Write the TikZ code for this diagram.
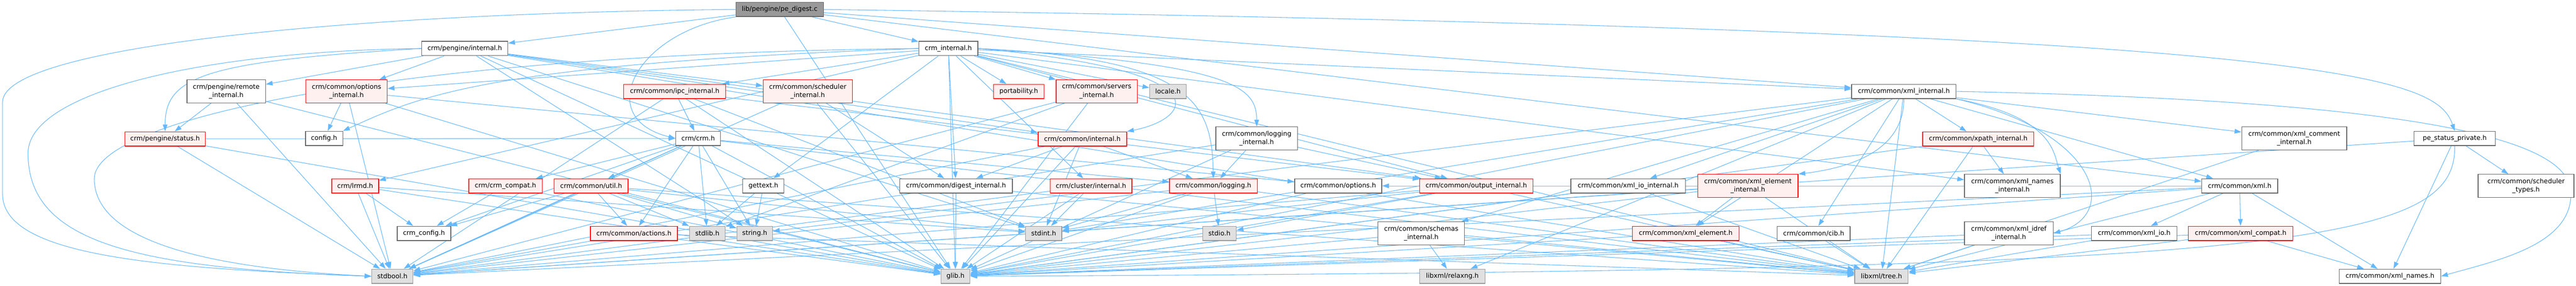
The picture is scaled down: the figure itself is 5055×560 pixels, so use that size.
\documentclass[tikz,border=0pt]{standalone}
\usepackage{fontspec}
\setmainfont{DejaVu Sans}
\usetikzlibrary{arrows.meta}
\definecolor{edgec}{HTML}{63B8FF}
\definecolor{redfill}{HTML}{FFF0F0}
\definecolor{grayfill}{HTML}{E0E0E0}
\definecolor{grayline}{HTML}{999999}
\definecolor{darkline}{HTML}{666666}
\definecolor{rootfill}{HTML}{999999}
\pgfdeclarelayer{back}\pgfdeclarelayer{edges}\pgfsetlayers{back,edges,main}
\begin{document}
\begin{tikzpicture}[x=0.75pt,y=-0.75pt,
 nd/.style={rectangle, inner sep=0pt, line width=1pt, align=center, font=\fontsize{9.6pt}{12.6pt}\selectfont, minimum height=21pt, text=black},
 dbl/.style={minimum height=33.75pt},
 W/.style={minimum width=#1*0.75pt},
 wb/.style={nd, draw=darkline, fill=white},
 rb/.style={nd, draw=red, fill=redfill},
 gb/.style={nd, draw=grayline, fill=grayfill},
 rootb/.style={nd, draw=darkline, fill=rootfill},
 edge/.style={draw=edgec, line width=0.8pt, -{Triangle[length=10pt,width=6.8pt]}},
]
\begin{pgfonlayer}{back}
\fill[white] (0,0) rectangle (5055,560);
\end{pgfonlayer}
\useasboundingbox (0,0) rectangle (5055,560);

% row 0-1
\node[rootb,W=172] (pe) at (1530,18.5) {lib/pengine/pe\_digest.c};
\node[wb,W=169] (pint) at (912,95) {crm/pengine/internal.h};
\node[wb,W=116] (ci) at (1861,95) {crm\_internal.h};
% row 2
\node[wb,W=154,dbl] (remi) at (444,179) {crm/pengine/remote\\\_internal.h};
\node[rb,W=160,dbl] (opti) at (680,179) {crm/common/options\\\_internal.h};
\node[rb,W=200] (ipci) at (1324,179) {crm/common/ipc\_internal.h};
\node[rb,W=175,dbl] (schedi) at (1585,179) {crm/common/scheduler\\\_internal.h};
\node[rb,W=99] (port) at (1999,179) {portability.h};
\node[rb,W=159,dbl] (servi) at (2152,179) {crm/common/servers\\\_internal.h};
\node[gb,W=72] (locale) at (2292,179) {locale.h};
\node[wb,W=205] (xmli) at (3736,179) {crm/common/xml\_internal.h};
% row 3
\node[rb,W=158] (status) at (324,272) {crm/pengine/status.h};
\node[wb,W=73] (config) at (636,271) {config.h};
\node[wb,W=88] (crm) at (1370,271) {crm/crm.h};
\node[rb,W=174] (cint) at (2124,272) {crm/common/internal.h};
\node[wb,W=160,dbl] (logi) at (2466,271) {crm/common/logging\\\_internal.h};
\node[rb,W=218] (xpathi) at (3882,272) {crm/common/xpath\_internal.h};
\node[wb,W=206,dbl] (xcommi) at (4502,271) {crm/common/xml\_comment\\\_internal.h};
\node[wb,W=160] (pesp) at (4817,271) {pe\_status\_private.h};
% row 4
\node[rb,W=92] (lrmd) at (697,364) {crm/lrmd.h};
\node[rb,W=144] (compat) at (992,364) {crm/crm\_compat.h};
\node[rb,W=145] (util) at (1160,364) {crm/common/util.h};
\node[wb,W=81] (gettext) at (1498,364) {gettext.h};
\node[wb,W=221] (digi) at (1876,364) {crm/common/digest\_internal.h};
\node[rb,W=160] (clui) at (2141,364) {crm/cluster/internal.h};
\node[rb,W=172] (logging) at (2381,364) {crm/common/logging.h};
\node[wb,W=171] (options) at (2626,364) {crm/common/options.h};
\node[rb,W=222] (outi) at (2897,364) {crm/common/output\_internal.h};
\node[wb,W=225] (xioi) at (3195,364) {crm/common/xml\_io\_internal.h};
\node[rb,W=197,dbl] (xeli) at (3430,364) {crm/common/xml\_element\\\_internal.h};
\node[wb,W=188,dbl] (xnamesi) at (3949,364) {crm/common/xml\_names\\\_internal.h};
\node[wb,W=149] (xmlh) at (4395,364) {crm/common/xml.h};
\node[wb,W=188,dbl] (schedt) at (4957,364) {crm/common/scheduler\\\_types.h};
% row 5
\node[wb,W=105] (crmconf) at (832,457) {crm\_config.h};
\node[rb,W=171] (actions) at (1244,457) {crm/common/actions.h};
\node[gb,W=70] (stdlib) at (1388,457) {stdlib.h};
\node[gb,W=70] (string) at (1481,457) {string.h};
\node[gb,W=71] (stdint) at (2048,457) {stdint.h};
\node[gb,W=66] (stdio) at (2393,457) {stdio.h};
\node[wb,W=170,dbl] (schemi) at (2789,457) {crm/common/schemas\\\_internal.h};
\node[rb,W=209] (xel) at (3308,457) {crm/common/xml\_element.h};
\node[wb,W=143] (cib) at (3559,457) {crm/common/cib.h};
\node[wb,W=174,dbl] (xidref) at (3942,457) {crm/common/xml\_idref\\\_internal.h};
\node[wb,W=168] (xio) at (4188,457) {crm/common/xml\_io.h};
\node[rb,W=205] (xcompat) at (4397,457) {crm/common/xml\_compat.h};
% row 6
\node[gb,W=81] (stdbool) at (770,541) {stdbool.h};
\node[gb,W=57] (glib) at (1875,541) {glib.h};
\node[gb,W=128] (relaxng) at (2850,541) {libxml/relaxng.h};
\node[gb,W=105] (tree) at (3692,541) {libxml/tree.h};
\node[wb,W=199] (xnames) at (4690,541) {crm/common/xml\_names.h};

\begin{pgfonlayer}{edges}
\foreach \a/\b in {
 pe/pint, pe/ci, pe/xmli, pe/xmlh, pe/glib,
 pint/remi, pint/opti, pint/schedi, pint/cint, pint/outi, pint/stdint, pint/string, pint/glib, pint/tree,
 remi/status, remi/glib, remi/stdbool,
 status/crm, status/glib, status/stdbool,
 opti/config, opti/glib, opti/stdbool, opti/options,
 ci/port, ci/servi, ci/locale, ci/ipci, ci/opti, ci/lrmd, ci/digi, ci/clui, ci/gettext, ci/xmli, ci/xnamesi, ci/outi, ci/glib, ci/tree,
 ipci/crm, ipci/stdint, ipci/glib, ipci/stdbool, ipci/outi,
 schedi/digi, schedi/glib, schedi/stdbool,
 servi/stdlib, servi/glib, servi/stdbool,
 crm/compat, crm/crmconf, crm/util, crm/actions, crm/stdlib, crm/string, crm/stdbool, crm/glib, crm/tree, crm/logging,
 compat/crmconf, compat/glib,
 lrmd/crmconf, lrmd/stdbool, lrmd/glib, lrmd/stdint,
 util/crmconf, util/actions, util/stdlib, util/string, util/stdbool, util/glib, util/tree, util/stdint,
 actions/glib, actions/stdbool, actions/tree,
 gettext/stdlib, gettext/string,
 digi/glib, digi/tree,
 clui/stdint, clui/glib, clui/stdbool,
 cint/digi, cint/logging, cint/glib, cint/stdbool, cint/stdint,
 logi/logging, logi/glib, logi/stdbool, logi/outi,
 logging/stdio, logging/glib, logging/stdbool, logging/stdint, logging/tree,
 options/glib,
 outi/glib, outi/stdbool, outi/stdio, outi/stdint, outi/tree,
 xmli/xpathi, xmli/xcommi, xmli/xioi, xmli/xmlh, xmli/cib, xmli/xel, xmli/schemi, xmli/relaxng, xmli/glib, xmli/stdint, xmli/string, xmli/tree,
 xioi/glib, xioi/tree,
 xeli/xel, xeli/tree, xeli/glib, xeli/stdbool,
 xel/tree, xel/glib,
 schemi/relaxng, schemi/glib, schemi/tree,
 cib/tree,
 xpathi/xnamesi, xpathi/glib, xpathi/tree,
 xidref/glib, xidref/tree,
 xio/glib, xio/tree,
 xmlh/xio, xmlh/xcompat, xmlh/xnames, xmlh/glib, xmlh/stdbool, xmlh/tree, xmlh/options,
 xcompat/xnames, xcompat/glib, xcompat/tree,
 xcommi/tree,
 pesp/schedt, pesp/xnames, pesp/stdbool}
 \draw[edge] (\a) -- (\b);
% curved routes
\draw[edge] (pe.west) .. controls (700,25) and (5,90) .. (5,200) -- (5,380) .. controls (5,500) and (300,525) .. (stdbool.west);
\draw[edge] (pint.west) .. controls (400,100) and (55,180) .. (55,300) .. controls (55,470) and (250,525) .. (stdbool.west);
\draw[edge] (ci.west) .. controls (800,105) and (185,230) .. (185,350) .. controls (185,470) and (400,525) .. (stdbool.west);
\draw[edge] (pint.west) .. controls (400,120) and (324,150) .. (status.north);
\draw[edge] (pe.south west) .. controls (1250,60) and (1160,230) .. (crm.west);
\draw[edge] (pe.east) .. controls (4600,60) and (4780,150) .. (pesp.north);
\draw[edge] (xmli.east) .. controls (4900,200) and (5045,300) .. (5045,380) .. controls (5045,480) and (4900,510) .. (xnames.east);
\draw[edge] (pesp.south) .. controls (4820,480) and (4500,530) .. (glib.east);
\draw[edge] (ci.west) .. controls (950,125) and (820,190) .. (config.north east);
\draw[edge] (ci.east) .. controls (2340,115) and (2378,200) .. (logging.north);
\draw[edge] (ci.east) .. controls (2420,125) and (2466,170) .. (logi.north);
\draw[edge] (ci.east) .. controls (2420,140) and (2330,235) .. (cint.north east);
\draw[edge] (xmli.south east) .. controls (4030,230) and (4030,300) .. (xnamesi.north east);
\draw[edge] (xmli.south east) .. controls (4120,260) and (4160,420) .. (xidref.east);
\draw[edge] (xmli.south) .. controls (3736,300) and (3620,330) .. (xeli.north east);
\end{pgfonlayer}
\end{tikzpicture}
\end{document}
